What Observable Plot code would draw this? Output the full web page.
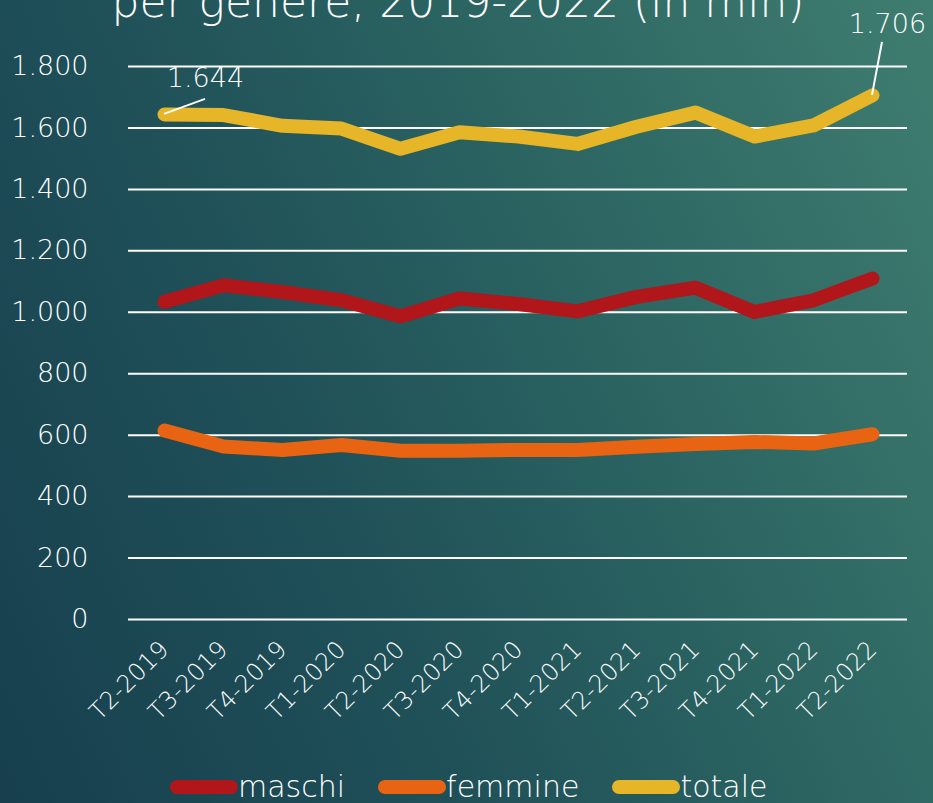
<!DOCTYPE html>
<html>
<head>
<meta charset="utf-8">
<script src="https://cdn.jsdelivr.net/npm/d3@7"></script>
<script src="https://cdn.jsdelivr.net/npm/@observablehq/plot@0.6"></script>
<style>
  html, body { margin: 0; padding: 0; }
  body {
    width: 933px; height: 803px; overflow: hidden; position: relative;
    background: linear-gradient(65deg, #173f4e 0%, #1f5058 35%, #2c6562 65%, #3f7d70 100%);
    font-family: "DejaVu Sans", Lato, sans-serif; font-weight: 200; color: white;
  }
  #title {
    position: absolute; left: 0; width: 916px; top: -24px; text-align: center;
    font-size: 44px; font-weight: 200; white-space: nowrap; line-height: 52px;
  }
  #chart { position: absolute; left: 0; top: 0; }
  #legend {
    position: absolute; top: 772px; left: 168px; height: 30px; display: flex; align-items: center;
    font-size: 30px; font-weight: 200; line-height: 30px;
  }
  #legend .item { display: flex; align-items: center; margin-right: 31px; }
  #legend svg { display: block; }
</style>
</head>
<body>
<div id="title">per genere, 2019-2022 (in mln)</div>
<div id="chart"></div>
<div id="legend"></div>
<script>
const quarters = ["T2-2019","T3-2019","T4-2019","T1-2020","T2-2020","T3-2020","T4-2020","T1-2021","T2-2021","T3-2021","T4-2021","T1-2022","T2-2022"];
const maschi  = [1034,1088,1066,1039,987,1045,1027,1003,1050,1080,1001,1039,1110];
const femmine = [615,563,552,568,549,549,552,552,562,571,578,573,603];
const totale  = [1644,1642,1607,1598,1532,1586,1572,1548,1604,1650,1572,1608,1706];
const series = ["maschi","femmine","totale"];
const colors = ["#b0161a","#e86412","#e6b628"];
const yTicks = [0,200,400,600,800,1000,1200,1400,1600,1800];
const labels = [
  {q: "T2-2019", value: 1644, text: "1.644", lx: 41, ly: -15},
  {q: "T2-2022", value: 1706, text: "1.706", lx: 10, ly: -53}
];

const values = {maschi, femmine, totale};
const data = series.flatMap(s => quarters.map((q, i) => ({q, serie: s, value: values[s][i]})));
const fmt = d => d3.format(",")(d).replace(/,/g, ".");

const leader = (index, scales) => {
  const g = d3.create("svg:g");
  for (const i of index) {
    const d = labels[i];
    const x = scales.x(d.q), y = scales.y(d.value);
    g.append("line").attr("x1", x).attr("y1", y).attr("x2", x + d.lx).attr("y2", y + d.ly)
      .attr("stroke", "white").attr("stroke-width", 2);
  }
  return g.node();
};

const chart = Plot.plot({
  width: 933,
  height: 803,
  marginTop: 66,
  marginLeft: 128,
  marginRight: 26,
  marginBottom: 184,
  style: {background: "transparent", color: "white", fontFamily: "'DejaVu Sans', Lato, sans-serif", fontWeight: 200},
  x: {type: "point", domain: quarters, padding: 0.5},
  y: {domain: [0, 1800]},
  color: {domain: series, range: colors},
  marks: [
    Plot.gridY(yTicks, {stroke: "white", strokeOpacity: 1, strokeWidth: 2}),
    Plot.axisY(yTicks, {tickSize: 0, tickPadding: 40, tickFormat: fmt, fontSize: 27, fill: "white", label: null}),
    Plot.axisX({tickSize: 0, tickPadding: 26, tickRotate: -45, fontSize: 24, fill: "white", label: null}),
    Plot.line(data, {x: "q", y: "value", z: "serie", stroke: "serie", strokeWidth: 14, strokeLinecap: "round", strokeLinejoin: "round"}),
    Plot.dot(labels, {x: "q", y: "value", r: 0, render: leader}),
    Plot.text(labels.slice(0,1), {x: "q", y: "value", text: "text", dx: 41, dy: -36, fontSize: 27, fill: "white"}),
    Plot.text(labels.slice(1), {x: "q", y: "value", text: "text", dx: 15, dy: -71, fontSize: 27, fill: "white"})
  ]
});
document.getElementById("chart").appendChild(chart);

const legend = document.getElementById("legend");
series.forEach((s, i) => {
  const item = document.createElement("div");
  item.className = "item";
  item.innerHTML = `<svg width="70" height="20"><line x1="9" y1="10" x2="63" y2="10" stroke="${colors[i]}" stroke-width="14" stroke-linecap="round"/></svg><span>${s}</span>`;
  legend.appendChild(item);
});
</script>
</body>
</html>
